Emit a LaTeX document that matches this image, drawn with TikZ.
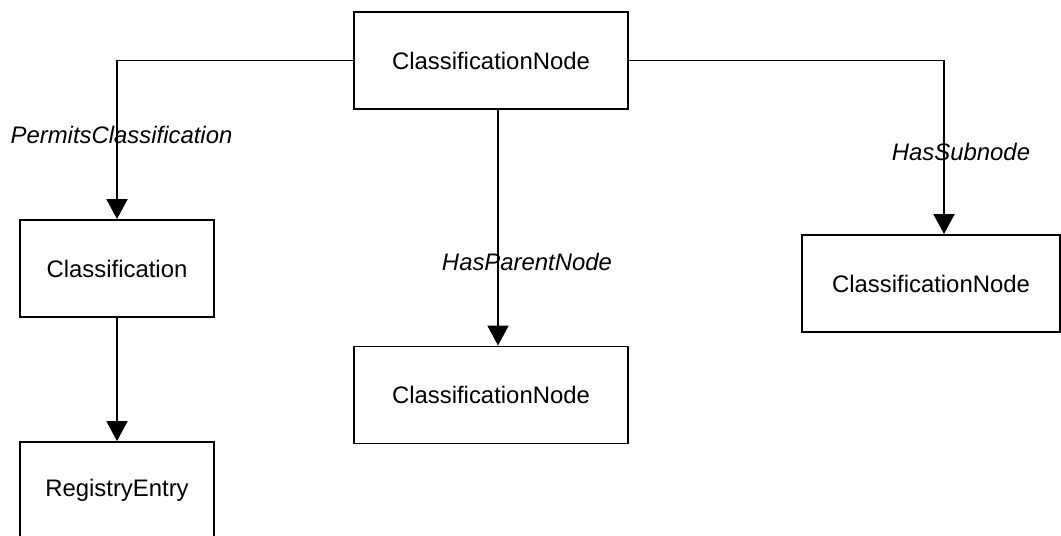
\documentclass[tikz,border=0pt]{standalone}
\usepackage{fontspec}
\setmainfont{Liberation Sans}
\usetikzlibrary{arrows.meta}
\begin{document}
\begin{tikzpicture}[
  x=0.02cm, y=-0.02cm,
  every node/.style={font=\fontsize{13.6}{16}\selectfont},
  caixa/.style={draw, line width=1.1pt, minimum height=1.94cm, inner sep=0pt},
  seta/.style={line width=1.1pt, -{Triangle[width=0.42cm, length=0.4cm]}},
  rotulo/.style={font=\fontsize{13.6}{16}\selectfont\itshape}
]
\clip (0,0) rectangle (1061,536);
\node[caixa, minimum width=5.48cm] (topo) at (491,60.5) {ClassificationNode};
\node[caixa, minimum width=3.88cm] (classif) at (117,268.5) {Classification};
\node[caixa, minimum width=3.88cm] (registro) at (117,490.5) {RegistryEntry};
\node[caixa, minimum width=5.48cm] (pai) at (491,395) {ClassificationNode};
\node[caixa, minimum width=5.16cm] (sub) at (931,283.5) {ClassificationNode};
% rotulos das associacoes
\node[rotulo] (lperm) at (121.5,135) {PermitsClassification};
\node[rotulo] (lpai) at (527,262) {HasParentNode};
\node[rotulo] (lsub) at (961,152) {HasSubnode};
\draw[seta] (topo.west) -| (classif.north);
\draw[seta] ([xshift=0.14cm]topo.south) -- ([xshift=0.14cm]pai.north);
\draw[seta] (topo.east) -| ([xshift=0.26cm]sub.north);
\draw[seta] (classif.south) -- (registro.north);
\end{tikzpicture}
\end{document}
